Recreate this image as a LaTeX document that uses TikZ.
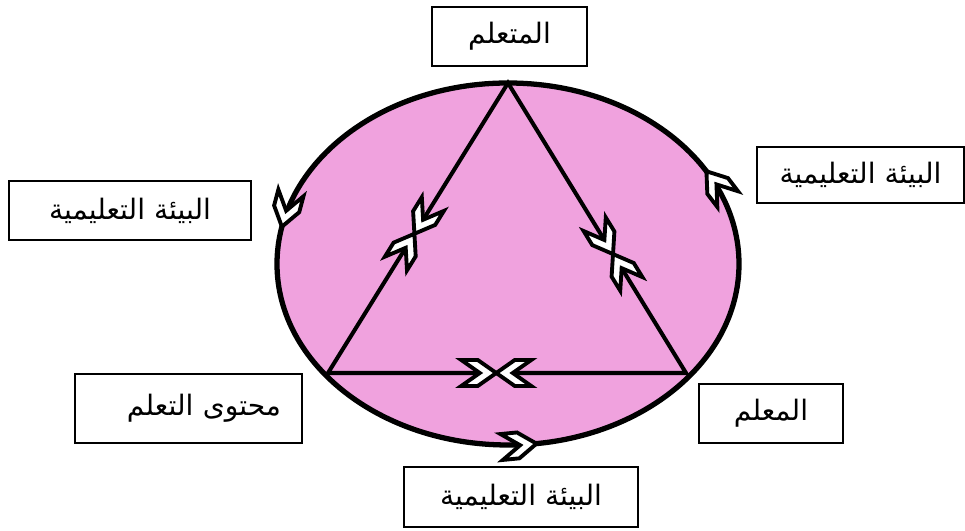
\documentclass[tikz,border=0pt]{standalone}
\usepackage{fontspec}
\TeXXeTstate=1
\newfontfamily\arabicfont[Script=Arabic]{DejaVu Sans}
\usetikzlibrary{decorations.markings}
\definecolor{ringpink}{RGB}{240,162,222}
\tikzset{
  chev/.pic={\draw[chevron] (0,0)--(-3.7mm,2.6mm)--(-7mm,2.6mm)--(-3.3mm,0)
    --(-7mm,-2.6mm)--(-3.7mm,-2.6mm)--cycle;}}

\begin{document}
\begin{tikzpicture}[x=0.2mm,y=0.2mm,
  font=\arabicfont\fontsize{16}{19}\selectfont,
  label/.style={draw=black,line width=0.9pt,fill=white,inner sep=2pt},
  ring/.style={draw=black,line width=3pt,fill=ringpink},
  side/.style={draw=black,line width=2.3pt,line join=miter},
  chevron/.style={draw=black,fill=white,line width=2.2pt,line join=miter},
  meet/.style={postaction={decorate},decoration={markings,
    mark=at position #1 with {\pic[transform shape]{chev};
      \pic[transform shape,rotate=180]{chev};}}}]
\useasboundingbox (0,0) rectangle (965,531);

% ring and triangle
\draw[ring] (508,267) ellipse [x radius=46.2mm,y radius=36.2mm];
\path[decorate,decoration={markings,
  mark=at position 0.077 with {\pic[transform shape]{chev};},
  mark=at position 0.471 with {\pic[transform shape]{chev};},
  mark=at position 0.772 with {\pic[transform shape]{chev};}}]
  (508,267) ellipse [x radius=46.2mm,y radius=36.2mm];
\coordinate (apex) at (508,448);
\coordinate (bl) at (328,158);
\coordinate (br) at (686,158);
\draw[side] (apex)--(bl)--(br)--cycle;
\path[meet=0.52] (apex)--(bl);
\path[meet=0.59] (apex)--(br);
\path[meet=0.47] (bl)--(br);

% boxes
\node[label,minimum width=31mm,minimum height=11.8mm] (learner) at (509.5,494.5) {\beginR المتعلم\endR};
\node[label,minimum width=41.4mm,minimum height=11.2mm] (env_right) at (860.5,356) {\beginR البيئة التعليمية\endR};
\node[label,minimum width=48.4mm,minimum height=11.8mm] (env_left) at (130,320.5) {\beginR البيئة التعليمية\endR};
\node[label,minimum width=45.4mm,minimum height=13.8mm,text width=37mm,align=right] (content) at (188.5,122.5) {\beginR محتوى التعلم\endR};
\node[label,minimum width=28.8mm,minimum height=11.8mm] (teacher) at (771,117.5) {\beginR المعلم\endR};
\node[label,minimum width=46.8mm,minimum height=12mm] (env_bottom) at (521,34) {\beginR البيئة التعليمية\endR};
\end{tikzpicture}
\end{document}
